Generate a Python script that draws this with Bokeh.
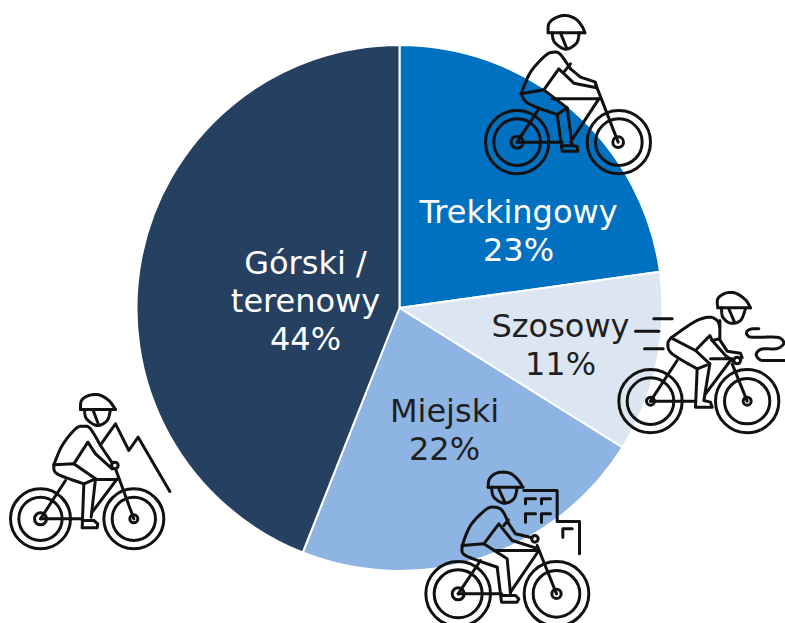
import math
from bokeh.plotting import figure
from bokeh.models import Range1d
from bokeh.core.properties import value
from bokeh.embed import file_html
from bokeh.resources import INLINE

categories = ["Trekkingowy", "Szosowy", "Miejski", "Górski /\nterenowy"]
shares = [22.8, 11.1, 22.1, 44.0]
colors = ["#0070C0", "#DCE6F2", "#8EB4E3", "#254061"]
label_colors = ["#FFFFFF", "#1F1F1F", "#1F1F1F", "#FFFFFF"]
label_x = [518, 560, 444, 305]
label_y = [249.5, 363.5, 448.5, 338.5]

W, H = 785, 623
p = figure(width=W, height=H, x_range=Range1d(0, W), y_range=Range1d(H, 0),
           output_backend="svg", toolbar_location=None, min_border=0, outline_line_color=None)
p.axis.visible = False
p.grid.visible = False

CX, CY, R = 399, 307.5, 263
total = sum(shares)
acc = 0
for s, c in zip(shares, colors):
    a0 = math.pi / 2 - acc / total * 2 * math.pi
    acc += s
    a1 = math.pi / 2 - acc / total * 2 * math.pi
    p.wedge(x=[CX], y=[CY], radius=R, start_angle=a0, end_angle=a1, direction="clock",
            fill_color=c, line_color="white", line_width=2)

LH = 38
for cat, s, col, lx, ly in zip(categories, shares, label_colors, label_x, label_y):
    lines = cat.split("\n") + [f"{round(s)}%"]
    for i, t in enumerate(lines):
        yy = ly - (len(lines) - 1 - i) * LH
        p.text(x=[lx], y=[yy], text=[t], text_align="center", text_baseline="middle",
               text_color=col, text_font=value("DejaVu Sans"), text_font_size="32px")


def smooth(pts, n=8):
    P = [pts[0]] + list(pts) + [pts[-1]]
    out = []
    for i in range(1, len(P) - 2):
        p0, p1, p2, p3 = P[i - 1], P[i], P[i + 1], P[i + 2]
        for k in range(n):
            t = k / n
            out.append(tuple(
                0.5 * (2 * p1[d] + (p2[d] - p0[d]) * t + (2 * p0[d] - 5 * p1[d] + 4 * p2[d] - p3[d]) * t * t
                       + (3 * p1[d] - p0[d] - 3 * p2[d] + p3[d]) * t ** 3) for d in (0, 1)))
    out.append(pts[-1])
    return out


def icon(ox, oy, straight, curved, rings):
    strokes = list(straight) + [smooth(c) for c in curved]
    xs = [[ox + q[0] / 3 for q in s] for s in strokes]
    ys = [[oy + q[1] / 3 for q in s] for s in strokes]
    p.multi_line(xs, ys, line_color="#111111", line_width=3, line_join="round", line_cap="round")
    for cx, cy, r in rings:
        p.circle(x=[ox + cx / 3], y=[oy + cy / 3], radius=r / 3, fill_color=None,
                 line_color="#111111", line_width=3)


# Trekking rider
icon(470, 0,
     [[(233, 97), (343, 97)], [(270, 97), (288, 142)],
      [(300, 205), (330, 230), (375, 245), (378, 262), (310, 248), (265, 205), (220, 268)],
      [(280, 215), (300, 190)], [(152, 280), (220, 268), (290, 322), (260, 342)],
      [(260, 342), (275, 452), (322, 452), (320, 438), (305, 435), (290, 322)],
      [(275, 436), (305, 436)],
      [(140, 425), (205, 325)], [(140, 425), (275, 425)], [(300, 425), (385, 295)],
      [(245, 295), (385, 295)], [(375, 250), (443, 425)]],
     [[(233, 97), (235, 70), (255, 52), (285, 45), (315, 55), (335, 78), (343, 97)],
      [(245, 97), (252, 125), (285, 146), (318, 128), (326, 97)],
      [(152, 280), (180, 215), (225, 165), (250, 155), (270, 162), (300, 205)],
      [(152, 280), (175, 310), (260, 342)]],
     [(140, 425, 95), (140, 425, 70), (140, 425, 18), (445, 425, 95), (445, 425, 70), (443, 425, 16)])

# Road rider
icon(610, 280,
     [[(322, 82), (420, 82)], [(355, 85), (372, 125)],
      [(328, 120), (328, 175), (305, 180), (298, 165), (255, 210), (182, 172)],
      [(305, 180), (345, 225), (365, 240)], [(328, 178), (350, 212), (390, 218), (395, 232)],
      [(255, 210), (298, 250), (260, 265)],
      [(260, 265), (255, 380), (305, 380), (300, 365), (280, 360), (298, 250)],
      [(120, 362), (200, 240)], [(120, 362), (255, 362)], [(285, 340), (360, 240)],
      [(300, 235), (365, 235)], [(365, 250), (410, 362)],
      [(130, 115), (185, 115)], [(75, 152), (145, 152)], [(102, 205), (158, 205)]],
     [[(322, 82), (322, 55), (345, 38), (375, 38), (405, 58), (420, 82)],
      [(333, 82), (337, 110), (360, 128), (390, 120), (405, 85)],
      [(182, 172), (250, 125), (295, 110), (320, 120), (328, 140)],
      [(182, 172), (172, 190), (185, 220), (260, 265)],
      [(445, 145), (425, 145), (412, 150), (408, 158), (412, 165), (425, 170), (495, 170),
       (512, 175), (520, 187), (512, 198), (495, 205), (460, 205), (445, 210), (437, 222),
       (445, 235), (460, 240), (525, 240)]],
     [(120, 362, 95), (120, 362, 70), (120, 362, 12), (410, 362, 95), (410, 362, 68), (410, 362, 12),
      (380, 240, 10)])

# City rider
icon(415, 460,
     [[(218, 80), (322, 80)], [(250, 85), (268, 125)],
      [(280, 190), (300, 220), (350, 232)], [(360, 262), (290, 240), (250, 190), (205, 250)],
      [(265, 195), (278, 178)], [(140, 255), (205, 250), (275, 295), (285, 400)],
      [(245, 320), (258, 425), (305, 425), (310, 415), (300, 405), (258, 405)],
      [(128, 400), (195, 300)], [(128, 400), (258, 400)], [(285, 395), (370, 270)],
      [(235, 270), (365, 270)], [(365, 255), (423, 400)],
      [(325, 90), (425, 90), (425, 183), (492, 183), (492, 280)],
      [(330, 130), (330, 115), (360, 115)], [(378, 130), (378, 115), (405, 115)],
      [(330, 185), (330, 160), (360, 160)], [(378, 185), (378, 160), (405, 160)],
      [(442, 230), (442, 205), (470, 205)]],
     [[(218, 80), (222, 55), (245, 37), (280, 37), (305, 55), (322, 80)],
      [(228, 80), (235, 110), (265, 128), (295, 115), (305, 82)],
      [(140, 255), (165, 195), (210, 148), (235, 140), (260, 150), (280, 190)],
      [(140, 258), (150, 285), (245, 320)]],
     [(128, 400, 97), (128, 400, 72), (128, 400, 18), (423, 400, 97), (423, 400, 70), (423, 400, 14),
      (358, 235, 10)])

# Mountain rider
icon(0, 385,
     [[(240, 72), (345, 72)], [(277, 72), (293, 115)],
      [(300, 180), (335, 232)], [(335, 250), (285, 205), (262, 170), (220, 235)],
      [(160, 238), (220, 235), (285, 280), (250, 295)],
      [(250, 295), (245, 427), (290, 427), (292, 415), (280, 405), (245, 405)],
      [(285, 280), (272, 395)],
      [(120, 400), (195, 285)], [(120, 400), (245, 400)], [(275, 380), (350, 280)],
      [(285, 282), (350, 282)], [(345, 250), (400, 400)],
      [(300, 178), (345, 115), (385, 195), (413, 155), (508, 318)]],
     [[(240, 72), (243, 45), (265, 30), (295, 28), (325, 45), (345, 72)],
      [(252, 72), (258, 100), (290, 120), (320, 105), (330, 72)],
      [(160, 238), (185, 180), (225, 130), (250, 122), (270, 130), (300, 180)],
      [(160, 238), (170, 265), (250, 295)]],
     [(120, 400, 90), (120, 400, 65), (120, 400, 18), (400, 400, 90), (400, 400, 65), (400, 400, 12),
      (343, 240, 10)])

open("out.html", "w").write(file_html(p, INLINE))
